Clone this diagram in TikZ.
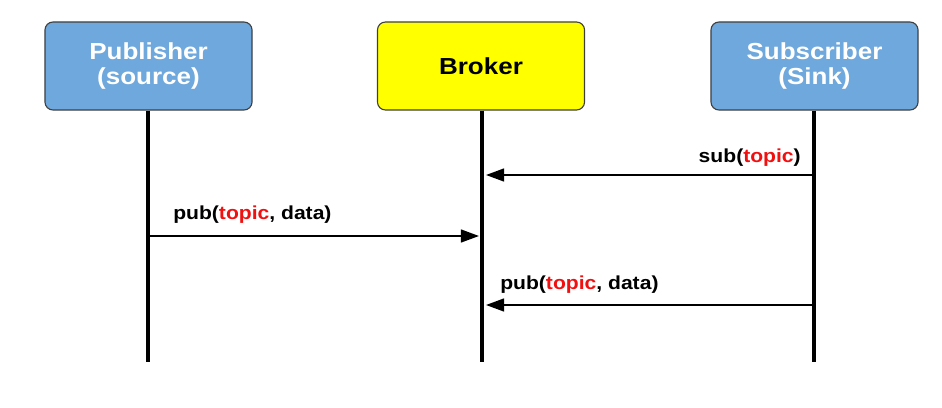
\documentclass[tikz,border=0pt]{standalone}
\usepackage{fontspec}
\setmainfont[FakeStretch=1.12]{Liberation Sans}
\usetikzlibrary{arrows.meta}
\definecolor{actorblue}{HTML}{6FA8DC}
\definecolor{brokeryellow}{HTML}{FFFF00}
\definecolor{topicred}{HTML}{F01010}
\newcommand{\topic}{\textcolor{topicred}{topic}}
\tikzset{
  actor/.style={draw=black!75, line width=0.8pt, rounded corners=0.2cm,
    minimum width=5.175cm, minimum height=2.2cm, align=center,
    font=\fontsize{16.5}{18}\selectfont\bfseries},
  lifeline/.style={line width=2.9pt},
  msg/.style={line width=1.3pt, -{Triangle[length=0.45cm,width=0.32cm]}},
  msglabel/.style={font=\fontsize{13.4}{15}\selectfont\bfseries, inner sep=0pt}
}
\begin{document}
\begin{tikzpicture}[x=0.025cm,y=-0.025cm]
	\useasboundingbox (0,0) rectangle (942,408);
	% the three parties
	\node[actor, fill=actorblue, text=white] (pub) at (148.5,66) {Publisher\\(source)};
	\node[actor, fill=brokeryellow, text=black] (brk) at (481,66) {Broker};
	\node[actor, fill=actorblue, text=white] (sub) at (814.5,66) {Subscriber\\(Sink)};
	% lifelines
	\coordinate (pubend) at (148,362);
	\coordinate (brkend) at (482,362);
	\coordinate (subend) at (814,362);
	\draw[lifeline] (pub.south -| pubend) -- (pubend);
	\draw[lifeline] (brk.south -| brkend) -- (brkend);
	\draw[lifeline] (sub.south -| subend) -- (subend);
	% messages
	\coordinate (s1) at (814,175);
	\coordinate (b1) at (486,175);
	\coordinate (p2) at (148,236);
	\coordinate (b2) at (479,236);
	\coordinate (s3) at (814,305);
	\coordinate (b3) at (486,305);
	\draw[msg] (s1) -- (b1);
	\node[msglabel, anchor=base east] (sublabel) at (801,162) {sub(\topic)};
	\draw[msg] (p2) -- (b2);
	\node[msglabel, anchor=base west] (publabel) at (173,219) {pub(\topic, data)};
	\draw[msg] (s3) -- (b3);
	\node[msglabel, anchor=base west] (fwdlabel) at (500,289) {pub(\topic, data)};
\end{tikzpicture}
\end{document}
